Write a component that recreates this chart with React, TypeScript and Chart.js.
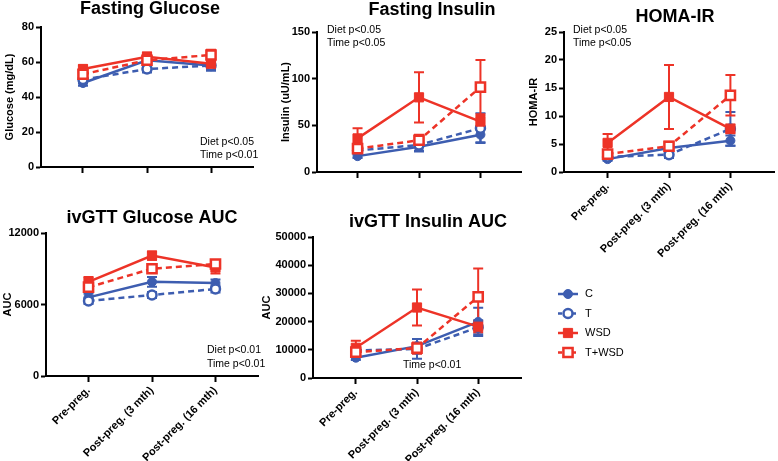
import React, { useEffect, useRef } from 'react';
import { Chart, registerables } from 'chart.js';

Chart.register(...registerables);

const FONT = '"Liberation Sans", Arial, Helvetica, sans-serif';
Chart.defaults.font.family = FONT;

// ---------- data ----------
const timepoints = ['Pre-preg.', 'Post-preg. (3 mth)', 'Post-preg. (16 mth)'];
const groupNames = ['C', 'T', 'WSD', 'T+WSD'];

// Fasting glucose (mg/dL)
const glucoseTicks = [0, 20, 40, 60, 80];
const glucoseC = [48, 61, 58];
const glucoseCErr = [1.5, 2, 2];
const glucoseT = [50, 56, 58];
const glucoseTErr = [2, 2, 3];
const glucoseWSD = [56, 63, 59];
const glucoseWSDErr = [2, 2.5, 2.5];
const glucoseTWSD = [53, 61, 64];
const glucoseTWSDErr = [2, 3, 3];

// Fasting insulin (uU/mL)
const insulinTicks = [0, 50, 100, 150];
const insulinC = [17, 27, 40];
const insulinCErr = [2, 5, 8];
const insulinT = [23, 29, 47];
const insulinTErr = [3, 6, 16];
const insulinWSD = [36, 80, 54];
const insulinWSDErr = [11, 27, 6];
const insulinTWSD = [25, 34, 91];
const insulinTWSDErr = [4, 6, 29];

// HOMA-IR
const homaTicks = [0, 5, 10, 15, 20, 25];
const homaC = [2.3, 4.3, 5.6];
const homaCErr = [0.3, 0.8, 0.9];
const homaT = [2.7, 3.1, 7.7];
const homaTErr = [0.5, 0.6, 3.0];
const homaWSD = [5.2, 13.4, 7.7];
const homaWSDErr = [1.6, 5.7, 0.8];
const homaTWSD = [3.2, 4.6, 13.7];
const homaTWSDErr = [0.6, 0.8, 3.6];

// ivGTT glucose AUC
const gAucTicks = [0, 6000, 12000];
const gAucC = [6600, 7900, 7800];
const gAucCErr = [300, 400, 300];
const gAucT = [6300, 6800, 7300];
const gAucTErr = [250, 250, 300];
const gAucWSD = [7900, 10100, 9100];
const gAucWSDErr = [400, 350, 500];
const gAucTWSD = [7450, 9000, 9400];
const gAucTWSDErr = [350, 300, 300];

// ivGTT insulin AUC
const iAucTicks = [0, 10000, 20000, 30000, 40000, 50000];
const iAucC = [7200, 11300, 19900];
const iAucCErr = [800, 2500, 5000];
const iAucT = [9800, 10300, 18000];
const iAucTErr = [1000, 3500, 2500];
const iAucWSD = [10700, 25000, 18200];
const iAucWSDErr = [2500, 6400, 2000];
const iAucTWSD = [9200, 10600, 28800];
const iAucTWSDErr = [1500, 2000, 10000];

// ---------- styles ----------
const BLUE = '#3D5DB0';
const RED = '#ED3327';
const groupStyles = [
  { color: BLUE, dashed: false, shape: 'circle', open: false, order: 4 },
  { color: BLUE, dashed: true, shape: 'circle', open: true, order: 3 },
  { color: RED, dashed: false, shape: 'rect', open: false, order: 2 },
  { color: RED, dashed: true, shape: 'rect', open: true, order: 1 },
];

type Note = { text: string; x: number; y: number };
type PanelCfg = {
  left: number; top: number; width: number; height: number;
  yW: number; padTop: number; padRight: number; xH: number; xPad: number;
  showX: boolean; yTitle: string; yTicks: number[];
  title: string; titleX: number; titleY: number; notes: Note[];
  series: number[][][]; legend?: boolean;
};

const panels: PanelCfg[] = [
  {
    left: -1, top: 0, width: 270, height: 190, yW: 42, padTop: 27, padRight: 16, xH: 23, xPad: 0.656,
    showX: false, yTitle: 'Glucose (mg/dL)', yTicks: glucoseTicks,
    title: 'Fasting Glucose', titleX: 150, titleY: 14,
    notes: [{ text: 'Diet p<0.05', x: 200, y: 145 }, { text: 'Time p<0.01', x: 200, y: 158 }],
    series: [[glucoseC, glucoseCErr], [glucoseT, glucoseTErr], [glucoseWSD, glucoseWSDErr], [glucoseTWSD, glucoseTWSDErr]],
  },
  {
    left: 275, top: 0, width: 255, height: 190, yW: 42, padTop: 32, padRight: 2, xH: 18, xPad: 0.66,
    showX: false, yTitle: 'Insulin (uU/mL)', yTicks: insulinTicks,
    title: 'Fasting Insulin', titleX: 432, titleY: 15,
    notes: [{ text: 'Diet p<0.05', x: 327, y: 33 }, { text: 'Time p<0.05', x: 327, y: 46 }],
    series: [[insulinC, insulinCErr], [insulinT, insulinTErr], [insulinWSD, insulinWSDErr], [insulinTWSD, insulinTWSDErr]],
  },
  {
    left: 523, top: 0, width: 260, height: 461, yW: 41, padTop: 32, padRight: 2, xH: 289, xPad: 0.71,
    showX: true, yTitle: 'HOMA-IR', yTicks: homaTicks,
    title: 'HOMA-IR', titleX: 675, titleY: 22,
    notes: [{ text: 'Diet p<0.05', x: 573, y: 32.5 }, { text: 'Time p<0.05', x: 573, y: 46 }],
    series: [[homaC, homaCErr], [homaT, homaTErr], [homaWSD, homaWSDErr], [homaTWSD, homaTWSDErr]],
    legend: true,
  },
  {
    left: -3, top: 195, width: 270, height: 266, yW: 49, padTop: 38, padRight: 7, xH: 85, xPad: 0.67,
    showX: true, yTitle: 'AUC', yTicks: gAucTicks,
    title: 'ivGTT Glucose AUC', titleX: 152, titleY: 223,
    notes: [{ text: 'Diet p<0.01', x: 207, y: 353 }, { text: 'Time p<0.01', x: 207, y: 367 }],
    series: [[gAucC, gAucCErr], [gAucT, gAucTErr], [gAucWSD, gAucWSDErr], [gAucTWSD, gAucTWSDErr]],
  },
  {
    left: 256, top: 195, width: 274, height: 266, yW: 57, padTop: 42, padRight: 3, xH: 83, xPad: 0.7,
    showX: true, yTitle: 'AUC', yTicks: iAucTicks,
    title: 'ivGTT Insulin AUC', titleX: 428, titleY: 227,
    notes: [{ text: 'Time p<0.01', x: 403, y: 368 }],
    series: [[iAucC, iAucCErr], [iAucT, iAucTErr], [iAucWSD, iAucWSDErr], [iAucTWSD, iAucTWSDErr]],
  },
];

// legend layout (page coordinates)
const legendMarkerX = 568;
const legendTextX = 585;
const legendRowsY = [294, 313.5, 333, 352.5];

function drawMarker(ctx: CanvasRenderingContext2D, st: any, x: number, y: number) {
  ctx.save();
  ctx.setLineDash([]);
  ctx.fillStyle = st.open ? '#fff' : st.color;
  ctx.strokeStyle = st.color;
  ctx.lineWidth = st.open ? 2.5 : 1;
  ctx.beginPath();
  if (st.shape === 'circle') ctx.arc(x, y, 4.5, 0, Math.PI * 2);
  else ctx.rect(x - 4.6, y - 4.6, 9.2, 9.2);
  ctx.fill();
  ctx.stroke();
  ctx.restore();
}

const errorBarPlugin = {
  id: 'errorBars',
  beforeDatasetsDraw(chart: any) {
    const ctx = chart.ctx;
    const xs = chart.scales.x;
    const ys = chart.scales.y;
    chart.data.datasets.forEach((ds: any) => {
      const errs: number[] = ds.errors;
      if (!errs) return;
      ctx.save();
      ctx.strokeStyle = ds.borderColor;
      ctx.lineWidth = 2;
      ctx.setLineDash([]);
      ds.data.forEach((pt: any, j: number) => {
        const x = xs.getPixelForValue(pt.x);
        const yTop = ys.getPixelForValue(pt.y + errs[j]);
        const yBot = ys.getPixelForValue(pt.y - errs[j]);
        ctx.beginPath();
        ctx.moveTo(x, yTop); ctx.lineTo(x, yBot);
        ctx.moveTo(x - 5, yTop); ctx.lineTo(x + 5, yTop);
        ctx.moveTo(x - 5, yBot); ctx.lineTo(x + 5, yBot);
        ctx.stroke();
      });
      ctx.restore();
    });
  },
};

function textPlugin(p: PanelCfg) {
  return {
    id: 'panelText',
    afterDraw(chart: any) {
      const ctx: CanvasRenderingContext2D = chart.ctx;
      ctx.save();
      ctx.fillStyle = '#000';
      ctx.textBaseline = 'alphabetic';
      ctx.font = `bold 18px ${FONT}`;
      ctx.textAlign = 'center';
      ctx.fillText(p.title, p.titleX - p.left, p.titleY - p.top);
      ctx.font = `10.5px ${FONT}`;
      ctx.textAlign = 'left';
      p.notes.forEach((n) => ctx.fillText(n.text, n.x - p.left, n.y - p.top));
      if (p.legend) {
        groupNames.forEach((name, i) => {
          const st = groupStyles[i];
          const cx = legendMarkerX - p.left;
          const cy = legendRowsY[i] - p.top;
          ctx.save();
          ctx.strokeStyle = st.color;
          ctx.lineWidth = 2.5;
          ctx.setLineDash(st.dashed ? [4, 3] : []);
          ctx.beginPath();
          ctx.moveTo(cx - 10, cy);
          ctx.lineTo(cx + 10, cy);
          ctx.stroke();
          ctx.restore();
          drawMarker(ctx, st, cx, cy);
          ctx.fillStyle = '#000';
          ctx.font = `11px ${FONT}`;
          ctx.textBaseline = 'middle';
          ctx.textAlign = 'left';
          ctx.fillText(name, legendTextX - p.left, cy);
        });
      }
      ctx.restore();
    },
  };
}

function buildConfig(p: PanelCfg): any {
  const datasets = p.series.map(([vals, errs], i) => {
    const st = groupStyles[i];
    return {
      label: groupNames[i],
      data: vals.map((v, j) => ({ x: j, y: v })),
      errors: errs,
      borderColor: st.color,
      backgroundColor: st.color,
      borderWidth: 2.5,
      borderDash: st.dashed ? [6, 4] : [],
      pointStyle: st.shape,
      pointRadius: st.shape === 'rect' ? 6.5 : 4.5,
      pointBackgroundColor: st.open ? '#fff' : st.color,
      pointBorderColor: st.color,
      pointBorderWidth: st.open ? 2.5 : 1,
      tension: 0,
      order: st.order,
      clip: false,
    };
  });
  return {
    type: 'line',
    data: { datasets },
    plugins: [errorBarPlugin, textPlugin(p)],
    options: {
      animation: false,
      responsive: false,
      devicePixelRatio: 1,
      layout: { padding: { top: p.padTop, right: p.padRight, bottom: 0, left: 0 } },
      plugins: { legend: { display: false }, tooltip: { enabled: false }, title: { display: false } },
      scales: {
        x: {
          type: 'linear',
          min: -p.xPad,
          max: 2 + p.xPad,
          afterBuildTicks: (s: any) => { s.ticks = timepoints.map((_, i) => ({ value: i })); },
          afterFit: (s: any) => { s.height = p.xH; },
          ticks: {
            display: p.showX,
            autoSkip: false,
            minRotation: 45,
            maxRotation: 45,
            padding: 2,
            color: '#000',
            font: { size: 11, weight: 'bold' },
            callback: (v: number) => timepoints[v] ?? '',
          },
          grid: { drawOnChartArea: false, drawTicks: true, tickLength: 6, tickColor: '#000', tickWidth: 2 },
          border: { display: true, color: '#000', width: 2 },
        },
        y: {
          type: 'linear',
          min: p.yTicks[0],
          max: p.yTicks[p.yTicks.length - 1],
          afterBuildTicks: (s: any) => { s.ticks = p.yTicks.map((v) => ({ value: v })); },
          afterFit: (s: any) => { s.width = p.yW; },
          ticks: {
            padding: 2,
            color: '#000',
            font: { size: 11, weight: 'bold' },
            callback: (v: number) => String(v),
          },
          grid: { drawOnChartArea: false, drawTicks: true, tickLength: 5, tickColor: '#000', tickWidth: 2 },
          border: { display: true, color: '#000', width: 2 },
          title: {
            display: true,
            text: p.yTitle,
            color: '#000',
            font: { size: 11, weight: 'bold' },
            padding: { top: 4, bottom: 4 },
          },
        },
      },
    },
  };
}

function Panel({ p }: { p: PanelCfg }) {
  const ref = useRef<HTMLCanvasElement | null>(null);
  useEffect(() => {
    if (!ref.current) return;
    const chart = new Chart(ref.current, buildConfig(p));
    return () => chart.destroy();
  }, [p]);
  return (
    <canvas
      ref={ref}
      width={p.width}
      height={p.height}
      style={{ position: 'absolute', left: p.left, top: p.top, width: p.width, height: p.height }}
    />
  );
}

export default function App() {
  return (
    <div
      style={{
        position: 'absolute',
        left: 0,
        top: 0,
        width: 778,
        height: 461,
        overflow: 'hidden',
        background: '#fff',
      }}
    >
      {panels.map((p, i) => (
        <Panel key={i} p={p} />
      ))}
    </div>
  );
}
